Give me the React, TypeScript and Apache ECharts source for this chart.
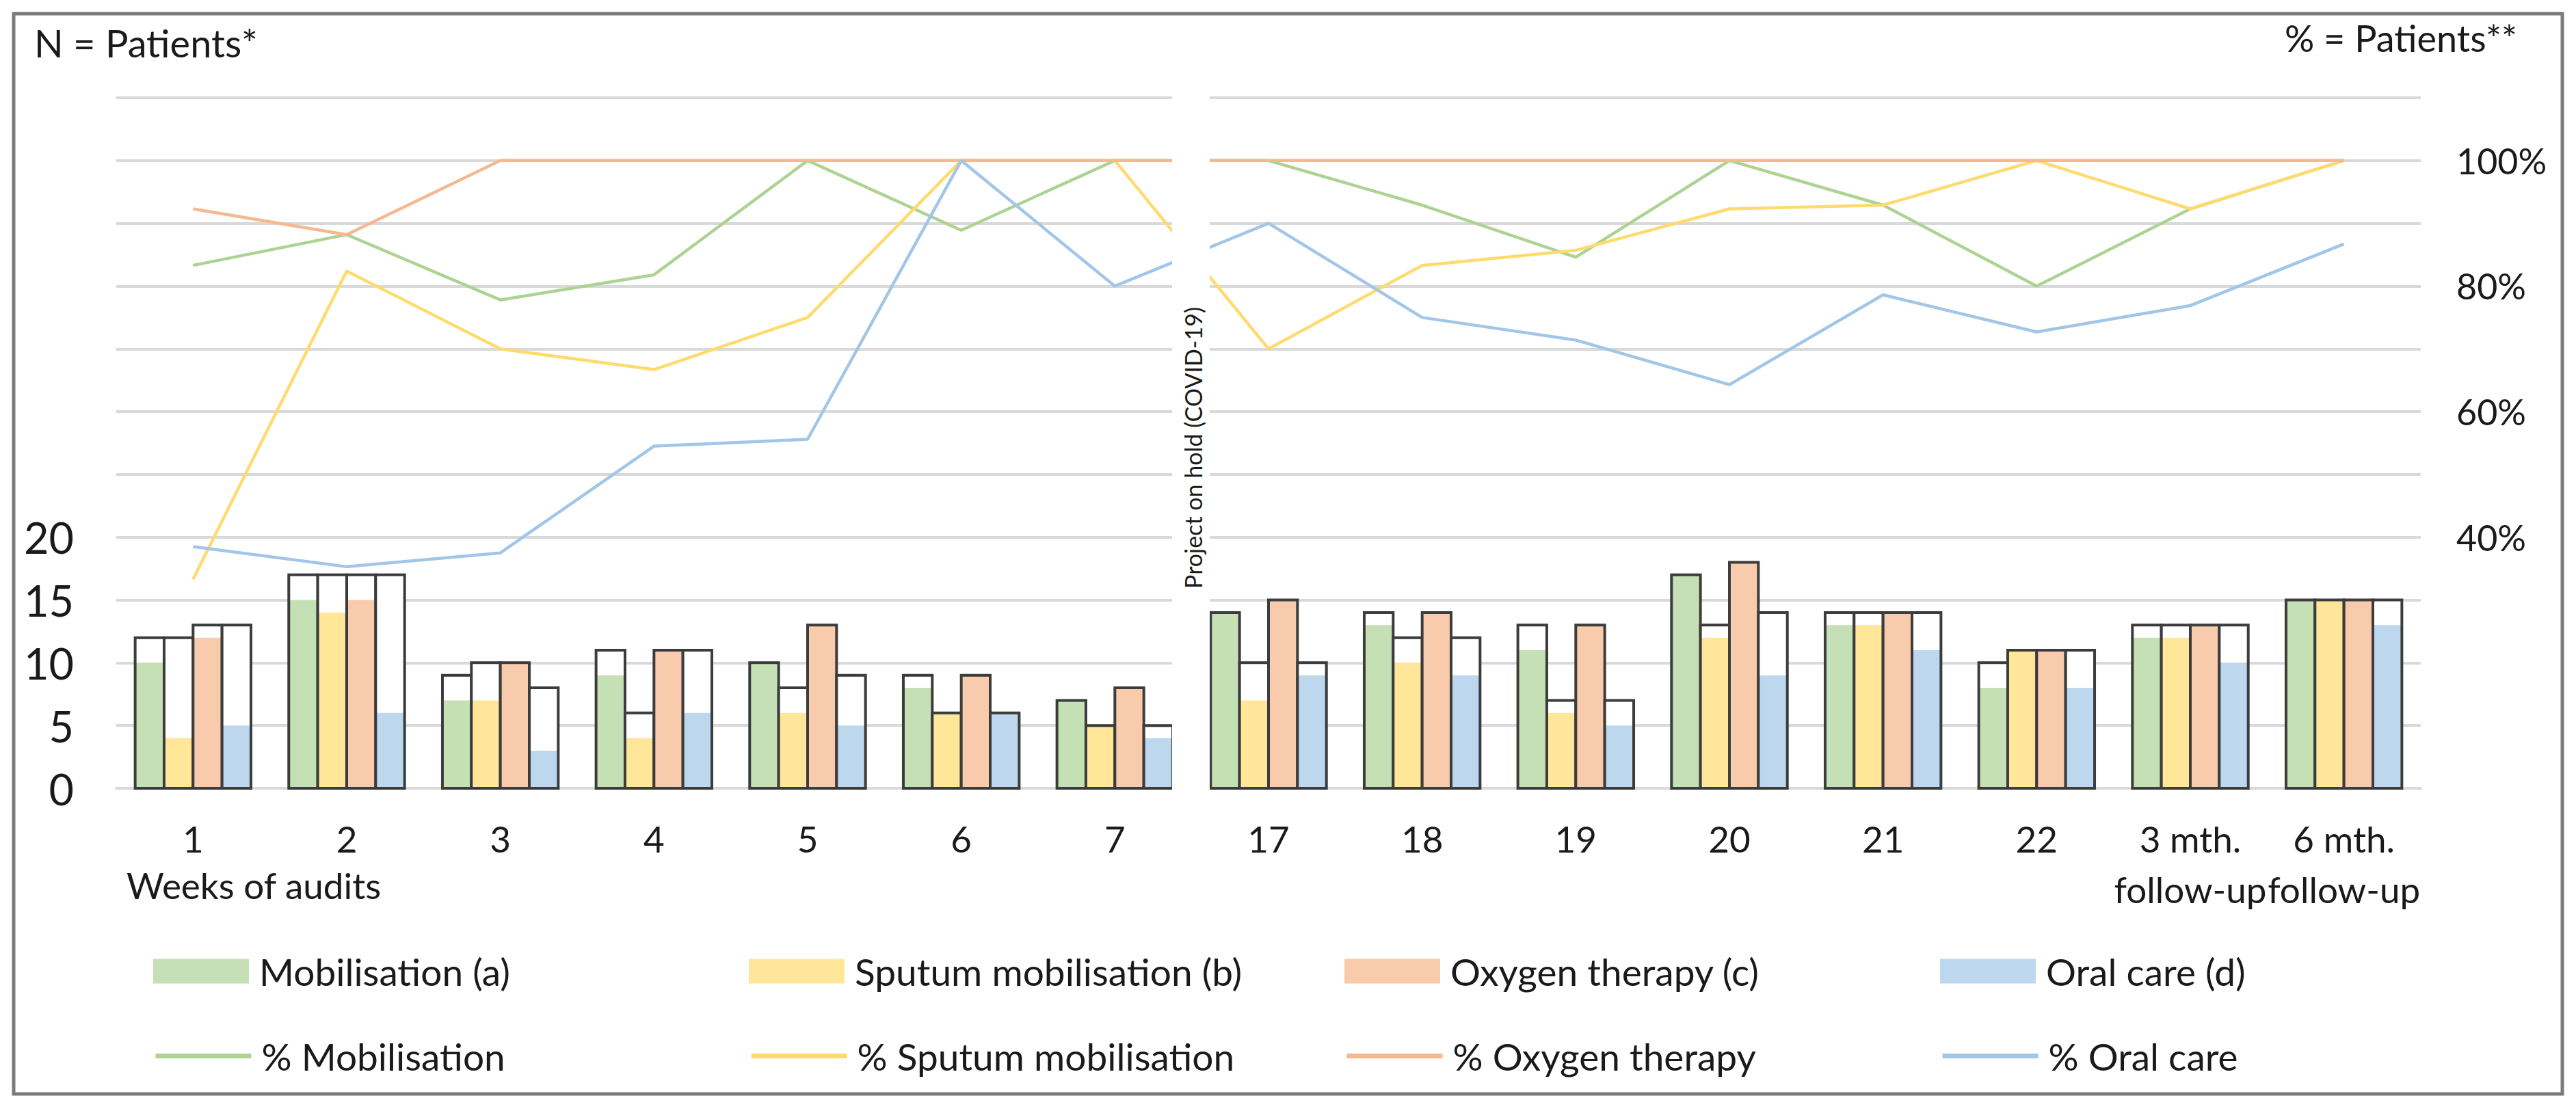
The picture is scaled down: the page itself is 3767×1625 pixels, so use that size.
import React, { useEffect, useRef } from "react";
import * as echarts from "echarts";

const categories = ["1", "2", "3", "4", "5", "6", "7", "17", "18", "19", "20", "21", "22", "3 mth.\nfollow-up", "6 mth.\nfollow-up"];

// N = patients audited (outer box) and patients receiving the intervention (coloured fill)
const mobTotal = [12, 17, 9, 11, 10, 9, 7, 14, 14, 13, 17, 14, 10, 13, 15];
const mobDone = [10, 15, 7, 9, 10, 8, 7, 14, 13, 11, 17, 13, 8, 12, 15];
const sputTotal = [12, 17, 10, 6, 8, 6, 5, 10, 12, 7, 13, 14, 11, 13, 15];
const sputDone = [4, 14, 7, 4, 6, 6, 5, 7, 10, 6, 12, 13, 11, 12, 15];
const oxyTotal = [13, 17, 10, 11, 13, 9, 8, 15, 14, 13, 18, 14, 11, 13, 15];
const oxyDone = [12, 15, 10, 11, 13, 9, 8, 15, 14, 13, 18, 14, 11, 13, 15];
const oralTotal = [13, 17, 8, 11, 9, 6, 5, 10, 12, 7, 14, 14, 11, 13, 15];
const oralDone = [5, 6, 3, 6, 5, 6, 4, 9, 9, 5, 9, 11, 8, 10, 13];

// % of patients
const pctMob = [83.3, 88.2, 77.8, 81.8, 100, 88.9, 100, 100, 92.9, 84.6, 100, 92.9, 80, 92.3, 100];
const pctSput = [33.3, 82.4, 70, 66.7, 75, 100, 100, 70, 83.3, 85.7, 92.3, 92.9, 100, 92.3, 100];
const pctOxy = [92.3, 88.2, 100, 100, 100, 100, 100, 100, 100, 100, 100, 100, 100, 100, 100];
const pctOral = [38.5, 35.3, 37.5, 54.5, 55.6, 100, 80, 90, 75, 71.4, 64.3, 78.6, 72.7, 76.9, 86.7];

const leftTicksShown = [0, 5, 10, 15, 20];
const rightTicksShown = [40, 60, 80, 100];

const FONT = 'Lato, "Open Sans", sans-serif';
const TXT = "#1a1a1a";
const BAR_COLORS = ["#C5E0B4", "#FFE699", "#F8CBAD", "#BDD7EE"];
const LINE_COLORS = ["#ADD393", "#FFDB6E", "#F5B890", "#A2C6E8"];
const BAR_NAMES = ["Mobilisation (a)", "Sputum mobilisation (b)", "Oxygen therapy (c)", "Oral care (d)"];
const LINE_NAMES = ["% Mobilisation", "% Sputum mobilisation", "% Oxygen therapy", "% Oral care"];
const BAR_FRAC = 0.1885;

function barSeries(idx: number, totals: number[], done: number[]) {
  const color = BAR_COLORS[idx];
  return {
    type: "custom",
    name: BAR_NAMES[idx],
    xAxisIndex: 0,
    yAxisIndex: 0,
    z: 2,
    itemStyle: { color },
    encode: { x: 0, y: [1, 2] },
    data: totals.map((t, i) => [i, t, done[i]]),
    renderItem: (params: any, api: any) => {
      const ci = api.value(0);
      const total = api.value(1);
      const ach = api.value(2);
      const base = api.coord([ci, 0]);
      const topT = api.coord([ci, total]);
      const topA = api.coord([ci, ach]);
      const band = api.size([1, 0])[0];
      const bw = band * BAR_FRAC;
      const x = base[0] + (idx - 2) * bw;
      return {
        type: "group",
        children: [
          {
            type: "rect",
            shape: { x, y: topT[1], width: bw, height: base[1] - topT[1] },
            style: { fill: "#ffffff" },
          },
          {
            type: "rect",
            shape: { x, y: topA[1], width: bw, height: base[1] - topA[1] },
            style: { fill: color },
          },
          {
            type: "rect",
            shape: { x, y: topT[1], width: bw, height: base[1] - topT[1] },
            style: { fill: "none", stroke: "#3c3c3c", lineWidth: 4 },
          },
        ],
      };
    },
  };
}

function lineSeries(idx: number, values: number[]) {
  return {
    type: "line",
    name: LINE_NAMES[idx],
    xAxisIndex: 0,
    yAxisIndex: 1,
    z: 4,
    symbol: "none",
    showSymbol: false,
    data: values,
    itemStyle: { color: LINE_COLORS[idx] },
    lineStyle: { color: LINE_COLORS[idx], width: 4.5 },
  };
}

const LEG_LEFT = [224, 1095, 1966, 2837];
const LEG_ROW1 = 1393;
const LEG_ROW2 = 1517;

function legends() {
  const out: any[] = [];
  for (let i = 0; i < 4; i++) {
    out.push({
      left: LEG_LEFT[i],
      top: LEG_ROW1,
      padding: 0,
      itemWidth: 140,
      itemHeight: 36,
      selectedMode: false,
      textStyle: { fontFamily: FONT, fontSize: 55, color: TXT, padding: [0, 0, 0, 10] },
      data: [{ name: BAR_NAMES[i], icon: "rect", itemStyle: { color: BAR_COLORS[i] } }],
    });
    out.push({
      left: LEG_LEFT[i],
      top: LEG_ROW2,
      padding: 0,
      itemWidth: 140,
      itemHeight: 36,
      selectedMode: false,
      itemStyle: { opacity: 0, borderWidth: 0 },
      lineStyle: { width: 7, opacity: 1, color: LINE_COLORS[i] },
      textStyle: { fontFamily: FONT, fontSize: 55, color: TXT, padding: [0, 0, 0, 10] },
      data: [{ name: LINE_NAMES[i] }],
    });
  }
  return out;
}

export default function App() {
  const ref = useRef<HTMLDivElement>(null);
  useEffect(() => {
    if (!ref.current) return;
    const chart = echarts.init(ref.current, null, { renderer: "svg" });
    const option: any = {
      animation: false,
      backgroundColor: "#ffffff",
      textStyle: { fontFamily: FONT },
      grid: { left: 170, right: 227, top: 143, bottom: 1625 - 1153, containLabel: false },
      legend: legends(),
      xAxis: {
        type: "category",
        data: categories,
        boundaryGap: true,
        axisTick: { show: false },
        axisLine: { show: true, lineStyle: { color: "#D9D9D9", width: 4 } },
        axisLabel: {
          fontFamily: FONT,
          fontSize: 53,
          color: TXT,
          margin: 36,
          lineHeight: 74,
          interval: 0,
        },
      },
      yAxis: [
        {
          type: "value",
          min: 0,
          max: 55,
          interval: 5,
          axisLine: { show: false },
          axisTick: { show: false },
          splitLine: { show: true, lineStyle: { color: "#D9D9D9", width: 4 } },
          axisLabel: {
            fontFamily: FONT,
            fontSize: 63,
            color: TXT,
            margin: 62,
            formatter: (v: number) => (leftTicksShown.indexOf(v) >= 0 ? String(v) : ""),
          },
        },
        {
          type: "value",
          position: "right",
          min: 0,
          max: 110,
          interval: 10,
          axisLine: { show: false },
          axisTick: { show: false },
          splitLine: { show: false },
          axisLabel: {
            fontFamily: FONT,
            fontSize: 52,
            color: TXT,
            margin: 52,
            formatter: (v: number) => (rightTicksShown.indexOf(Math.round(v)) >= 0 ? `${Math.round(v)}%` : ""),
          },
        },
      ],
      series: [
        barSeries(0, mobTotal, mobDone),
        barSeries(1, sputTotal, sputDone),
        barSeries(2, oxyTotal, oxyDone),
        barSeries(3, oralTotal, oralDone),
        lineSeries(0, pctMob),
        lineSeries(1, pctSput),
        lineSeries(2, pctOxy),
        lineSeries(3, pctOral),
      ],
      graphic: [
        {
          type: "rect",
          z: 50,
          shape: { x: 20, y: 20, width: 3727, height: 1580 },
          style: { fill: "none", stroke: "#7a7a7a", lineWidth: 5 },
        },
        {
          type: "rect",
          z: 50,
          shape: { x: 1714, y: 120, width: 55, height: 1045 },
          style: { fill: "#ffffff" },
        },
        {
          type: "text",
          z: 51,
          x: 1744,
          y: 655,
          rotation: Math.PI / 2,
          style: {
            text: "Project on hold (COVID-19)",
            fontFamily: FONT,
            fontSize: 34,
            fill: TXT,
            align: "center",
            verticalAlign: "middle",
          },
        },
        {
          type: "text",
          z: 51,
          x: 50,
          y: 62,
          style: { text: "N = Patients*", fontFamily: FONT, fontSize: 56, fill: TXT, align: "left", verticalAlign: "middle" },
        },
        {
          type: "text",
          z: 51,
          x: 3681,
          y: 55,
          style: { text: "% = Patients**", fontFamily: FONT, fontSize: 54, fill: TXT, align: "right", verticalAlign: "middle" },
        },
        {
          type: "text",
          z: 51,
          x: 185,
          y: 1294,
          style: { text: "Weeks of audits", fontFamily: FONT, fontSize: 53, fill: TXT, align: "left", verticalAlign: "middle" },
        },
      ],
    };
    chart.setOption(option);
    return () => chart.dispose();
  }, []);
  return (
    <div
      ref={ref}
      style={{ position: "fixed", left: 0, top: 0, width: 3767, height: 1625, background: "#fff" }}
    />
  );
}
